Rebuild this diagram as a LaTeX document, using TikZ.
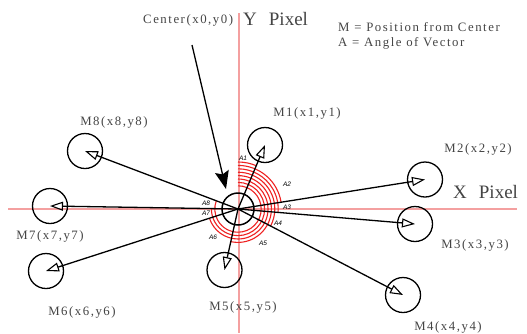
\documentclass[tikz,border=0pt]{standalone}
\usepackage{fontspec}
\setmainfont{Liberation Serif}
\newfontfamily\lab[LetterSpace=12]{Liberation Serif}
\newfontfamily\alab{Liberation Sans}
\usetikzlibrary{arrows.meta}
\definecolor{axisred}{HTML}{F4A0A0}
\definecolor{txtgray}{HTML}{444444}
\definecolor{arcred}{HTML}{EE2222}
\begin{document}
\begin{tikzpicture}[x=1pt,y=-1pt,
  sat/.style={draw, circle, line width=1.3pt, minimum size=35pt, inner sep=0pt},
  vec/.style={line width=1.3pt, -{Triangle[open, length=13pt, width=9pt, line width=1.1pt]}},
  mlab/.style={font=\lab\fontsize{12.8}{15}\selectfont, text=txtgray, inner sep=0pt},
  alabel/.style={font=\alab\itshape\fontsize{6.5}{7}\selectfont, inner sep=0pt},
  bigtitle/.style={font=\fontsize{19}{22}\selectfont, text=txtgray, inner sep=0pt},
  axisline/.style={axisred, line width=1.2pt},
  ang/.style={arcred, line width=1.1pt}]
\useasboundingbox (0,0) rectangle (527,333);

% axes
\coordinate (xl) at (8,209);
\coordinate (xr) at (517,209);
\coordinate (yt) at (239,13);
\coordinate (yb) at (239,333);
\draw[axisline] (xl) -- (xr);
\draw[axisline] (yt) -- (yb);

% center
\coordinate (c0) at (238,209);

% angle arcs
\foreach \r/\e in {47/67.1, 43.6/9.0, 40.2/-4.8, 36.8/-27.5, 33.4/-102.5, 30/-162.1, 26.6/-180.9, 23.2/-200.8}
  \draw[ang] (c0) ++(90:\r pt) arc[start angle=90, end angle=\e, radius=\r pt];

% satellites
\node[sat] (m1) at (265,145) {};
\node[sat] (m2) at (425,179.5) {};
\node[sat] (m3) at (415,224) {};
\node[sat] (m4) at (403,295) {};
\node[sat] (m5) at (224.5,270) {};
\node[sat] (m6) at (46,271) {};
\node[sat] (m7) at (50,206) {};
\node[sat] (m8) at (85,151) {};

\node[draw, circle, minimum size=32pt, line width=1.5pt, inner sep=0pt] (c) at (c0) {};

\foreach \m in {m1,m2,m3,m4,m5,m6,m7,m8}
  \draw[vec] (c.center) -- (\m.center);

% center label and arrow
\node[mlab, anchor=west] (clab) at (143,20) {Center(x0,y0)};
\coordinate (cs) at (192,45);
\coordinate (ce) at (226,189);
\draw[line width=1.3pt, -{Stealth[length=18pt, width=14pt, inset=3pt]}] (cs) -- (ce);

% titles
\node[bigtitle, anchor=west] (yp) at (243,18.5) {Y\hspace{12pt}Pixel};
\node[bigtitle, anchor=west] (xp) at (453,192) {X\hspace{12pt}Pixel};

% legend
\node[mlab, anchor=west] (lg1) at (338,27) {M = Position from Center};
\node[mlab, anchor=west] (lg2) at (338,43) {A = Angle of Vector};

% M labels
\node[mlab] (l1) at (307,113) {M1(x1,y1)};
\node[mlab] (l2) at (478,149) {M2(x2,y2)};
\node[mlab] (l3) at (475,245) {M3(x3,y3)};
\node[mlab] (l4) at (448,327) {M4(x4,y4)};
\node[mlab] (l5) at (243,307) {M5(x5,y5)};
\node[mlab] (l6) at (82,312) {M6(x6,y6)};
\node[mlab] (l7) at (50,236) {M7(x7,y7)};
\node[mlab] (l8) at (114,122) {M8(x8,y8)};

% A labels
\node[alabel] (a1) at (243,158) {A1};
\node[alabel] (a2) at (287,184) {A2};
\node[alabel] (a3) at (287,207) {A3};
\node[alabel] (a4) at (278,223) {A4};
\node[alabel] (a5) at (263,243) {A5};
\node[alabel] (a6) at (213,237) {A6};
\node[alabel] (a7) at (206,213) {A7};
\node[alabel] (a8) at (206,203) {A8};
\end{tikzpicture}
\end{document}
